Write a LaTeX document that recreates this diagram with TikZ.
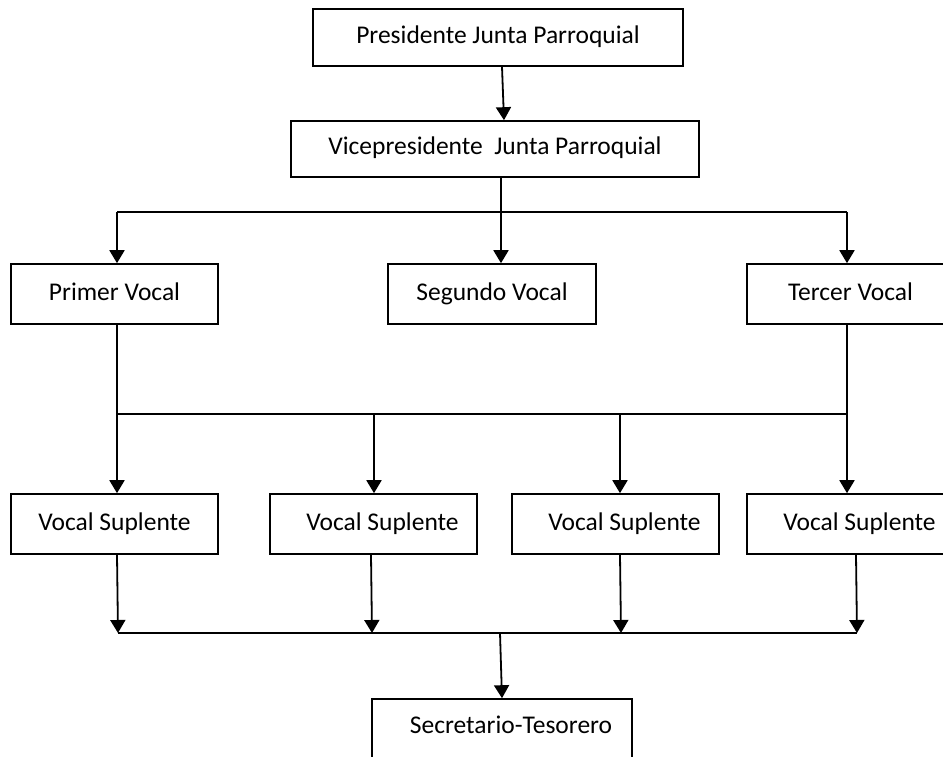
\documentclass[tikz,border=0pt]{standalone}
\usepackage{fontspec}
\setmainfont{Carlito}
\usetikzlibrary{arrows.meta}
\tikzset{
  box/.style={draw, line width=1.6pt, inner sep=0pt, minimum height=60pt,
    text height=17pt, text depth=5pt,
    font=\fontsize{25.5}{30}\selectfont, text=black},
  line/.style={draw, line width=1.8pt},
  arr/.style={line, -{Triangle[width=15pt,length=13pt]}}
}
\begin{document}
\begin{tikzpicture}[x=1pt,y=-1pt]
\path[use as bounding box, clip] (0,0) rectangle (943,757);
\fill[white] (0,0) rectangle (943,757);
% boxes
\node[box, minimum width=370pt, minimum height=57pt] (P) at (498,37.5) {Presidente Junta Parroquial};
\node[box, minimum width=408pt, minimum height=56pt] (V) at (495,149) {Vicepresidente~ Junta Parroquial};
\node[box, minimum width=207pt] (PV) at (114.5,294) {Primer Vocal};
\node[box, minimum width=208pt] (SV) at (492,294) {Segundo Vocal};
\node[box, minimum width=207pt] (TV) at (850.5,294) {Tercer Vocal};
\node[box, minimum width=207pt] (VS1) at (114.5,524) {Vocal Suplente};
\node[box, minimum width=207pt] (VS2) at (373.5,524) {\hspace*{18pt}Vocal Suplente};
\node[box, minimum width=207pt] (VS3) at (615.5,524) {\hspace*{18pt}Vocal Suplente};
\node[box, minimum width=207pt] (VS4) at (850.5,524) {\hspace*{18pt}Vocal Suplente};
\node[box, minimum width=260pt, minimum height=70pt, text depth=19pt] (ST) at (502,734) {\hspace*{18pt}Secretario-Tesorero};
% junction coordinates
\coordinate (a1) at (117,212);
\coordinate (a2) at (501,212);
\coordinate (a3) at (847,212);
\coordinate (b1) at (117,414);
\coordinate (b2) at (374,414);
\coordinate (b3) at (620,414);
\coordinate (b4) at (847,414);
\coordinate (c1) at (118,633);
\coordinate (c2) at (372,633);
\coordinate (c3) at (621,633);
\coordinate (c4) at (857,633);
\coordinate (c0) at (500,633);
% connectors
\draw[arr] ([xshift=4pt]P.south) -- ([xshift=9pt]V.north);
\draw[line] ([xshift=6pt]V.south) -- (a2);
\draw[line] (a1) -- (a3);
\draw[arr] (a1) -- ([xshift=2.5pt]PV.north);
\draw[arr] (a2) -- ([xshift=9pt]SV.north);
\draw[arr] (a3) -- ([xshift=-3.5pt]TV.north);
\draw[line] ([xshift=2.5pt]PV.south) -- (b1);
\draw[line] ([xshift=-3.5pt]TV.south) -- (b4);
\draw[line] (b1) -- (b4);
\draw[arr] (b1) -- ([xshift=2.5pt]VS1.north);
\draw[arr] (b2) -- ([xshift=0.5pt]VS2.north);
\draw[arr] (b3) -- ([xshift=4.5pt]VS3.north);
\draw[arr] (b4) -- ([xshift=-3.5pt]VS4.north);
\draw[arr] ([xshift=2.5pt]VS1.south) -- (c1);
\draw[arr] ([xshift=-2.5pt]VS2.south) -- (c2);
\draw[arr] ([xshift=4.5pt]VS3.south) -- (c3);
\draw[arr] ([xshift=5.5pt]VS4.south) -- (c4);
\draw[line] (c1) -- (c4);
\draw[arr] (c0) -- ([xshift=0pt]ST.north);
\end{tikzpicture}
\end{document}
